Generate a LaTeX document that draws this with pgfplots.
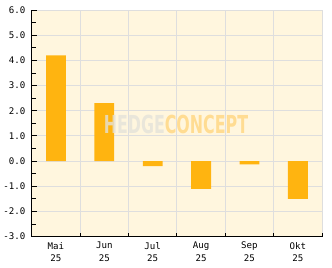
\documentclass[border=0pt]{standalone}
\usepackage{fontspec}
\setmainfont{DejaVu Sans Mono}
\newfontfamily\wmfont{DejaVu Sans}
\usepackage{pgfplots}
\pgfplotsset{compat=1.18}
\definecolor{bg}{RGB}{255,246,222}
\definecolor{bar}{RGB}{255,180,16}
\definecolor{gridc}{RGB}{222,222,222}
\definecolor{wmgray}{RGB}{228,226,218}
\definecolor{wmorange}{RGB}{255,214,128}
\begin{document}
\begin{tikzpicture}
\begin{axis}[
  scale only axis,
  width=292bp, height=228bp,
  xmin=-0.5, xmax=5.5,
  ymin=-3, ymax=6,
  axis background/.style={fill=bg},
  axis lines*=left,
  axis line style={black, line width=0.8pt, -},
  ytick={-3,-2,...,6},
  minor ytick={-2.5,-1.5,...,5.5},
  xtick={0,...,5},
  xticklabels={{Mai\\25},{Jun\\25},{Jul\\25},{Aug\\25},{Sep\\25},{Okt\\25}},
  xticklabel style={align=center, font=\fontsize{9.2}{12.5}\selectfont, yshift=-2bp},
  minor xtick={-0.5,0.5,...,5.5},
  major x tick style={draw=none},
  xtick align=inside, ytick align=inside,
  major tick length=5bp,
  minor tick length=4bp,
  tick style={black, line width=0.8pt},
  ymajorgrids, xminorgrids,
  grid style={gridc, line width=0.8pt},
  minor grid style={gridc, line width=0.8pt},
  yticklabel style={font=\fontsize{9.2}{11}\selectfont, xshift=-3bp},
  /pgf/number format/assume math mode=true,
  yticklabel={\pgfmathprintnumber[fixed,fixed zerofill,precision=1]{\tick}},
  clip=false,
]
\addplot[ybar, bar width=0.41, fill=bar, draw=none] coordinates {
  (0,4.2) (1,2.3) (2,-0.2) (3,-1.1) (4,-0.13) (5,-1.5)
};
\node[opacity=0.8, font=\wmfont\bfseries\fontsize{25}{25}\selectfont, xscale=0.64, inner sep=0] at (axis cs:2.48,1.46) {\textcolor{wmgray}{HEDGE}\textcolor{wmorange}{CONCEPT}};
\end{axis}
\path ([xshift=-30bp,yshift=-31bp]current axis.south west) rectangle ([xshift=10bp,yshift=10bp]current axis.north east);
\end{tikzpicture}
\end{document}
